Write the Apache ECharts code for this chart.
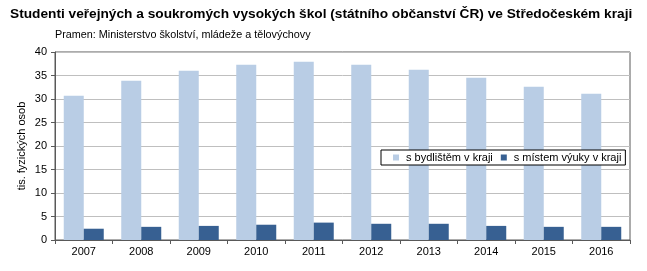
<!DOCTYPE html>
<html><head><meta charset="utf-8">
<script src="https://cdn.jsdelivr.net/npm/echarts@6/dist/echarts.min.js"></script>
<style>html,body{margin:0;padding:0;background:#fff}#c{width:647px;height:271px}</style>
</head><body><div id="c"></div>
<script>
const categories = ['2007','2008','2009','2010','2011','2012','2013','2014','2015','2016'];
const residenceValues = [30.7, 33.9, 36.0, 37.3, 37.9, 37.3, 36.2, 34.5, 32.6, 31.1];
const schoolValues = [2.4, 2.8, 3.0, 3.25, 3.7, 3.45, 3.45, 3.0, 2.8, 2.8];
const seriesNames = ['s bydlištěm v kraji', 's místem výuky v kraji'];
const titleText = 'Studenti veřejných a soukromých vysokých škol (státního občanství ČR) ve Středočeském kraji';
const subtitleText = 'Pramen: Ministerstvo školství, mládeže a tělovýchovy';
const yAxisName = 'tis. fyzických osob';

const font = 'Liberation Sans, Arial, sans-serif';
const chart = echarts.init(document.getElementById('c'), null, {renderer: 'canvas'});
chart.setOption({
  animation: false,
  textStyle: {fontFamily: font},
  title: [
    {text: titleText, left: 10, top: 7, padding: 0,
     textStyle: {fontFamily: font, fontSize: 13.7, fontWeight: 'bold', color: '#000'}},
    {text: subtitleText, left: 55, top: 30, padding: 0,
     textStyle: {fontFamily: font, fontSize: 10.8, fontWeight: 'normal', color: '#000'}}
  ],
  legend: {
    left: 381, top: 150, padding: [2, 4, 2, 12],
    borderColor: '#000', borderWidth: 1, backgroundColor: '#fff',
    icon: 'rect', itemWidth: 6, itemHeight: 6, itemGap: 8,
    textStyle: {fontFamily: font, fontSize: 11, color: '#000', padding: [0, 0, 0, 2]},
    data: seriesNames
  },
  grid: {left: 55, right: 17, top: 52, bottom: 31, show: true, borderColor: '#595959', borderWidth: 1},
  xAxis: {
    type: 'category', data: categories,
    axisLine: {lineStyle: {color: '#595959'}},
    axisTick: {show: true, length: 4, lineStyle: {color: '#595959'}},
    axisLabel: {color: '#000', fontSize: 11, margin: 6, fontFamily: font}
  },
  yAxis: {
    type: 'value', min: 0, max: 40, interval: 5,
    name: yAxisName, nameLocation: 'middle', nameGap: 28, nameRotate: 90, nameMoveOverlap: false,
    nameTextStyle: {color: '#000', fontSize: 11, fontFamily: font},
    axisLine: {show: true, lineStyle: {color: '#595959'}},
    axisTick: {show: true, length: 4, lineStyle: {color: '#595959'}},
    axisLabel: {color: '#000', fontSize: 11, margin: 8, fontFamily: font},
    splitLine: {lineStyle: {color: '#bfbfbf'}}
  },
  series: [
    {name: seriesNames[0], type: 'bar', data: residenceValues, barWidth: 20, barGap: '0%',
     itemStyle: {color: '#b9cde5'}},
    {name: seriesNames[1], type: 'bar', data: schoolValues, barWidth: 20, barGap: '0%',
     itemStyle: {color: '#376092'}}
  ]
});
</script></body></html>
